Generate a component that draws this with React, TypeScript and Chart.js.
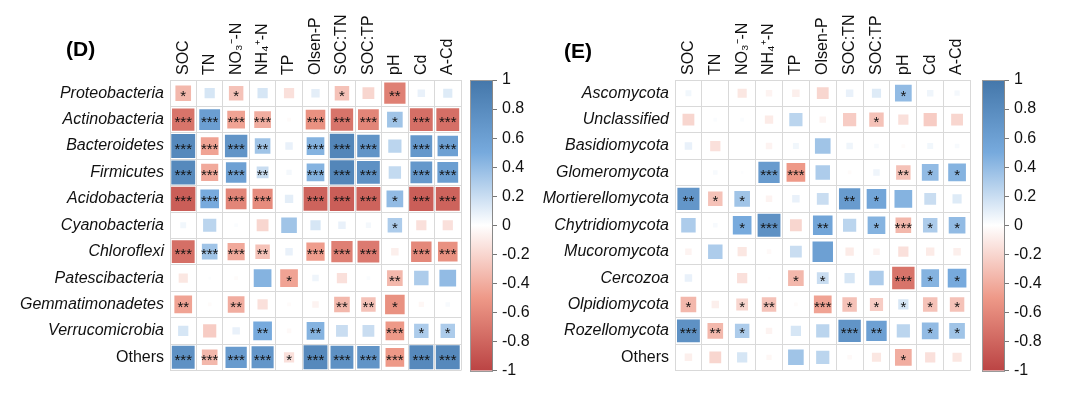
import React, { useEffect, useRef } from "react";
import { Chart, registerables } from "chart.js";

Chart.register(...registerables);

// ---------- categories ----------
const envCols = ["SOC", "TN", "NO₃⁻-N", "NH₄⁺-N", "TP", "Olsen-P", "SOC:TN", "SOC:TP", "pH", "Cd", "A-Cd"];

const bacteriaRows = [
  "Proteobacteria", "Actinobacteria", "Bacteroidetes", "Firmicutes", "Acidobacteria",
  "Cyanobacteria", "Chloroflexi", "Patescibacteria", "Gemmatimonadetes", "Verrucomicrobia", "Others",
];
const fungiRows = [
  "Ascomycota", "Unclassified", "Basidiomycota", "Glomeromycota", "Mortierellomycota",
  "Chytridiomycota", "Mucoromycota", "Cercozoa", "Olpidiomycota", "Rozellomycota", "Others",
];

// ---------- panel D: correlation values (columns = envCols) ----------
const dProteobacteria = [-0.35, 0.15, -0.3, 0.15, -0.15, 0.1, -0.3, -0.2, -0.65, 0.08, 0.12];
const dActinobacteria = [-0.72, 0.62, -0.45, -0.4, -0.02, -0.55, -0.72, -0.62, 0.35, -0.75, -0.75];
const dBacteroidetes = [0.82, -0.45, 0.72, 0.35, 0.08, 0.45, 0.85, 0.72, 0.25, 0.68, 0.6];
const dFirmicutes = [0.82, -0.42, 0.6, 0.2, 0.04, 0.45, 0.85, 0.75, 0.22, 0.68, 0.62];
const dAcidobacteria = [-0.85, 0.5, -0.62, -0.58, 0.1, -0.82, -0.85, -0.82, 0.4, -0.85, -0.82];
const dCyanobacteria = [0.05, 0.25, 0.02, -0.2, 0.35, 0.15, 0.08, 0.04, 0.3, -0.15, -0.15];
const dChloroflexi = [-0.75, 0.35, -0.42, -0.3, 0.08, -0.48, -0.65, -0.68, -0.08, -0.6, -0.55];
const dPatescibacteria = [-0.12, 0.01, -0.02, 0.45, -0.45, 0.06, -0.15, 0.02, -0.35, 0.3, 0.4];
const dGemmatimonadetes = [-0.45, -0.02, -0.4, -0.15, -0.02, -0.06, -0.35, -0.3, -0.55, -0.04, 0.03];
const dVerrucomicrobia = [0.15, -0.25, 0.08, 0.5, -0.03, 0.45, 0.2, 0.2, -0.5, 0.3, 0.3];
const dOthers = [0.75, -0.35, 0.65, 0.7, -0.15, 0.82, 0.75, 0.72, -0.5, 0.82, 0.82];

const dStarsProteobacteria = ["*", "", "*", "", "", "", "*", "", "**", "", ""];
const dStarsActinobacteria = ["***", "***", "***", "***", "", "***", "***", "***", "*", "***", "***"];
const dStarsBacteroidetes = ["***", "***", "***", "**", "", "***", "***", "***", "", "***", "***"];
const dStarsFirmicutes = ["***", "***", "***", "**", "", "***", "***", "***", "", "***", "***"];
const dStarsAcidobacteria = ["***", "***", "***", "***", "", "***", "***", "***", "*", "***", "***"];
const dStarsCyanobacteria = ["", "", "", "", "", "", "", "", "*", "", ""];
const dStarsChloroflexi = ["***", "***", "***", "**", "", "***", "***", "***", "", "***", "***"];
const dStarsPatescibacteria = ["", "", "", "", "*", "", "", "", "**", "", ""];
const dStarsGemmatimonadetes = ["**", "", "**", "", "", "", "**", "**", "*", "", ""];
const dStarsVerrucomicrobia = ["", "", "", "**", "", "**", "", "", "***", "*", "*"];
const dStarsOthers = ["***", "***", "***", "***", "*", "***", "***", "***", "***", "***", "***"];

// ---------- panel E: correlation values ----------
const eAscomycota = [0.05, 0.0, -0.12, -0.06, -0.08, -0.2, 0.08, 0.12, 0.4, 0.06, 0.04];
const eUnclassified = [-0.2, 0.02, 0.02, -0.1, 0.25, -0.06, -0.25, -0.3, -0.15, -0.25, -0.2];
const eBasidiomycota = [0.08, -0.15, 0.0, -0.06, 0.05, 0.35, 0.06, 0.03, -0.02, 0.05, 0.03];
const eGlomeromycota = [0.0, 0.03, 0.01, 0.65, -0.5, 0.3, -0.02, 0.06, -0.3, 0.4, 0.45];
const eMortierellomycota = [0.7, -0.3, 0.35, -0.06, 0.08, 0.2, 0.65, 0.55, 0.45, 0.2, 0.12];
const eChytridiomycota = [0.3, 0.03, 0.5, 0.75, -0.2, 0.55, 0.25, 0.45, -0.35, 0.3, 0.4];
const eMucoromycota = [-0.06, 0.3, -0.12, -0.03, 0.2, 0.6, -0.1, -0.06, -0.15, -0.1, -0.08];
const eCercozoa = [0.08, 0.0, -0.15, -0.01, -0.35, 0.2, 0.15, 0.3, -0.72, 0.45, 0.5];
const eOlpidiomycota = [-0.35, -0.08, -0.2, -0.3, -0.02, -0.45, -0.3, -0.25, 0.15, -0.3, -0.3];
const eRozellomycota = [0.75, -0.35, 0.3, -0.06, 0.15, 0.25, 0.72, 0.6, 0.25, 0.4, 0.35];
const eOthers = [-0.08, -0.2, 0.15, -0.04, 0.35, 0.25, -0.03, -0.12, -0.4, -0.15, -0.12];

const eStarsAscomycota = ["", "", "", "", "", "", "", "", "*", "", ""];
const eStarsUnclassified = ["", "", "", "", "", "", "", "*", "", "", ""];
const eStarsBasidiomycota = ["", "", "", "", "", "", "", "", "", "", ""];
const eStarsGlomeromycota = ["", "", "", "***", "***", "", "", "", "**", "*", "*"];
const eStarsMortierellomycota = ["**", "*", "*", "", "", "", "**", "*", "", "", ""];
const eStarsChytridiomycota = ["", "", "*", "***", "", "**", "", "*", "***", "*", "*"];
const eStarsMucoromycota = ["", "", "", "", "", "", "", "", "", "", ""];
const eStarsCercozoa = ["", "", "", "", "*", "*", "", "", "***", "*", "*"];
const eStarsOlpidiomycota = ["*", "", "*", "**", "", "***", "*", "*", "*", "*", "*"];
const eStarsRozellomycota = ["***", "**", "*", "", "", "", "***", "**", "", "*", "*"];
const eStarsOthers = ["", "", "", "", "", "", "", "", "*", "", ""];

// ---------- colour bar ----------
const colorbarTicks = [1, 0.8, 0.6, 0.4, 0.2, 0, -0.2, -0.4, -0.6, -0.8, -1];
const paletteValues = [-1, -0.5, 0, 0.5, 1];
const paletteColors = ["#BB4444", "#EE9988", "#FFFFFF", "#77AADD", "#4477AA"];

const FONT = "'Liberation Sans', Arial, Helvetica, sans-serif";
const GRID_COLOR = "#d9d9d9";
const LABEL_SIZE = 16;
const LABEL_LINE_HEIGHT = 1.2;

function hexToRgb(h: string) {
  const n = parseInt(h.slice(1), 16);
  return [(n >> 16) & 255, (n >> 8) & 255, n & 255];
}

function corrColor(v: number) {
  const x = Math.max(-1, Math.min(1, v));
  for (let i = 0; i < paletteValues.length - 1; i++) {
    const a = paletteValues[i];
    const b = paletteValues[i + 1];
    if (x >= a && x <= b) {
      const t = (x - a) / (b - a);
      const ca = hexToRgb(paletteColors[i]);
      const cb = hexToRgb(paletteColors[i + 1]);
      const c = ca.map((q, k) => Math.round(q + (cb[k] - q) * t));
      return `rgb(${c[0]},${c[1]},${c[2]})`;
    }
  }
  return paletteColors[paletteColors.length - 1];
}

interface PanelSpec {
  title: string;
  rows: string[];
  values: number[][];
  stars: string[][];
  left: number;
  gridLeft: number;
  gridRight: number;
  gridBottom: number;
  barGap: number;
  barWidth: number;
  titleX: number;
  titleY: number;
}

const panelD: PanelSpec = {
  title: "(D)",
  rows: bacteriaRows,
  values: [
    dProteobacteria, dActinobacteria, dBacteroidetes, dFirmicutes, dAcidobacteria, dCyanobacteria,
    dChloroflexi, dPatescibacteria, dGemmatimonadetes, dVerrucomicrobia, dOthers,
  ],
  stars: [
    dStarsProteobacteria, dStarsActinobacteria, dStarsBacteroidetes, dStarsFirmicutes, dStarsAcidobacteria,
    dStarsCyanobacteria, dStarsChloroflexi, dStarsPatescibacteria, dStarsGemmatimonadetes,
    dStarsVerrucomicrobia, dStarsOthers,
  ],
  left: 0,
  gridLeft: 170,
  gridRight: 461,
  gridBottom: 370.5,
  barGap: 9,
  barWidth: 22,
  titleX: 66,
  titleY: 50,
};

const panelE: PanelSpec = {
  title: "(E)",
  rows: fungiRows,
  values: [
    eAscomycota, eUnclassified, eBasidiomycota, eGlomeromycota, eMortierellomycota, eChytridiomycota,
    eMucoromycota, eCercozoa, eOlpidiomycota, eRozellomycota, eOthers,
  ],
  stars: [
    eStarsAscomycota, eStarsUnclassified, eStarsBasidiomycota, eStarsGlomeromycota, eStarsMortierellomycota,
    eStarsChytridiomycota, eStarsMucoromycota, eStarsCercozoa, eStarsOlpidiomycota, eStarsRozellomycota,
    eStarsOthers,
  ],
  left: 540,
  gridLeft: 135,
  gridRight: 430.5,
  gridBottom: 370.5,
  barGap: 11.5,
  barWidth: 22,
  titleX: 24,
  titleY: 52,
};

const W = 540;
const H = 393;

function makeChart(canvas: HTMLCanvasElement, spec: PanelSpec) {
  const points: any[] = [];
  spec.rows.forEach((r, i) => {
    envCols.forEach((c, j) => {
      points.push({ x: c, y: r, v: spec.values[i][j], s: spec.stars[i][j] });
    });
  });

  const radiusFn = (ctx: any) => {
    const ca = ctx.chart.chartArea;
    if (!ca || !ctx.raw) return 0;
    const cw = (ca.right - ca.left) / envCols.length;
    const chh = (ca.bottom - ca.top) / spec.rows.length;
    const cell = Math.min(cw, chh);
    const side = Math.sqrt(Math.abs(ctx.raw.v)) * cell;
    return side / Math.SQRT2;
  };

  const panelPlugin = {
    id: "panelDecor",
    beforeDraw(chart: any) {
      const c = chart.ctx;
      const cb = chart.scales.cb;
      const top = cb.getPixelForValue(1);
      const bottom = cb.getPixelForValue(-1);
      const x1 = cb.left - spec.barWidth;
      const g = c.createLinearGradient(0, top, 0, bottom);
      paletteValues.forEach((v, k) => {
        g.addColorStop((1 - v) / 2, paletteColors[k]);
      });
      c.save();
      c.fillStyle = g;
      c.fillRect(x1, top, spec.barWidth, bottom - top);
      c.strokeStyle = "#9a9a9a";
      c.lineWidth = 1;
      c.strokeRect(Math.round(x1) + 0.5, Math.round(top) + 0.5, spec.barWidth, Math.round(bottom - top));
      c.restore();
    },
    afterDatasetsDraw(chart: any) {
      const c = chart.ctx;
      const meta = chart.getDatasetMeta(0);
      c.save();
      c.fillStyle = "#111";
      c.font = `15px ${FONT}`;
      c.textAlign = "center";
      c.textBaseline = "alphabetic";
      meta.data.forEach((el: any, k: number) => {
        const s = points[k].s;
        if (!s) return;
        c.fillText(s, el.x, el.y + 7.5);
      });
      c.restore();
    },
    afterDraw(chart: any) {
      const c = chart.ctx;
      c.save();
      c.fillStyle = "#000";
      c.font = `bold 21px ${FONT}`;
      c.textAlign = "left";
      c.textBaseline = "middle";
      c.fillText(spec.title, spec.titleX, spec.titleY);
      c.restore();
    },
  };

  return new Chart(canvas, {
    type: "scatter",
    data: {
      datasets: [
        {
          data: points,
          pointStyle: "rect",
          pointRadius: radiusFn,
          pointHoverRadius: radiusFn,
          pointBackgroundColor: (ctx: any) => (ctx.raw ? corrColor(ctx.raw.v) : "#fff"),
          pointHoverBackgroundColor: (ctx: any) => (ctx.raw ? corrColor(ctx.raw.v) : "#fff"),
          pointBorderWidth: 0,
          pointHoverBorderWidth: 0,
        } as any,
      ],
    },
    options: {
      animation: false,
      responsive: false,
      events: [],
      layout: { padding: { left: 0, top: 0, right: 0, bottom: H - spec.gridBottom } },
      plugins: { legend: { display: false }, tooltip: { enabled: false } },
      scales: {
        x: {
          type: "category",
          labels: envCols,
          position: "top",
          offset: true,
          grid: { offset: true, color: GRID_COLOR, lineWidth: 1, drawTicks: false },
          border: { display: true, color: GRID_COLOR },
          ticks: {
            autoSkip: false,
            minRotation: 90,
            maxRotation: 90,
            padding: 5,
            labelOffset: LABEL_SIZE * LABEL_LINE_HEIGHT,
            color: "#111",
            font: { family: FONT, size: LABEL_SIZE, lineHeight: LABEL_LINE_HEIGHT },
          },
          afterFit: (s: any) => {
            s.height = 80;
          },
        },
        y: {
          type: "category",
          labels: spec.rows,
          position: "left",
          offset: true,
          grid: { offset: true, color: GRID_COLOR, lineWidth: 1, drawTicks: false },
          border: { display: true, color: GRID_COLOR },
          ticks: {
            autoSkip: false,
            padding: 6,
            color: "#111",
            font: (ctx: any) => ({
              family: FONT,
              size: LABEL_SIZE,
              style: ctx.tick && ctx.tick.label === "Others" ? "normal" : "italic",
            }),
          },
          afterFit: (s: any) => {
            s.width = spec.gridLeft;
          },
        },
        pad: {
          type: "linear",
          position: "right",
          weight: 0,
          display: true,
          ticks: { display: false },
          grid: { display: false },
          border: { display: false },
          afterFit: (s: any) => {
            s.width = spec.barGap + spec.barWidth;
          },
        },
        cb: {
          type: "linear",
          position: "right",
          weight: 1,
          min: -1,
          max: 1,
          afterBuildTicks: (s: any) => {
            s.ticks = colorbarTicks.map((v) => ({ value: v }));
          },
          ticks: {
            padding: 5,
            color: "#111",
            font: { family: FONT, size: LABEL_SIZE },
            callback: (v: any) => String(v),
          },
          grid: { drawOnChartArea: false, drawTicks: true, tickLength: 5, color: "#777" },
          border: { display: true, color: "#888" },
          afterFit: (s: any) => {
            s.width = W - spec.gridRight - spec.barGap - spec.barWidth;
          },
        },
      },
    } as any,
    plugins: [panelPlugin],
  });
}

function Panel({ spec }: { spec: PanelSpec }) {
  const ref = useRef<HTMLCanvasElement | null>(null);
  useEffect(() => {
    if (!ref.current) return;
    const chart = makeChart(ref.current, spec);
    return () => chart.destroy();
  }, [spec]);
  return (
    <div style={{ position: "absolute", left: spec.left, top: 0, width: W, height: H }}>
      <canvas ref={ref} width={W} height={H} style={{ width: W, height: H, display: "block" }} />
    </div>
  );
}

export default function App() {
  return (
    <div style={{ position: "fixed", left: 0, top: 0, width: 1080, height: 393, background: "#fff" }}>
      <Panel spec={panelD} />
      <Panel spec={panelE} />
    </div>
  );
}
